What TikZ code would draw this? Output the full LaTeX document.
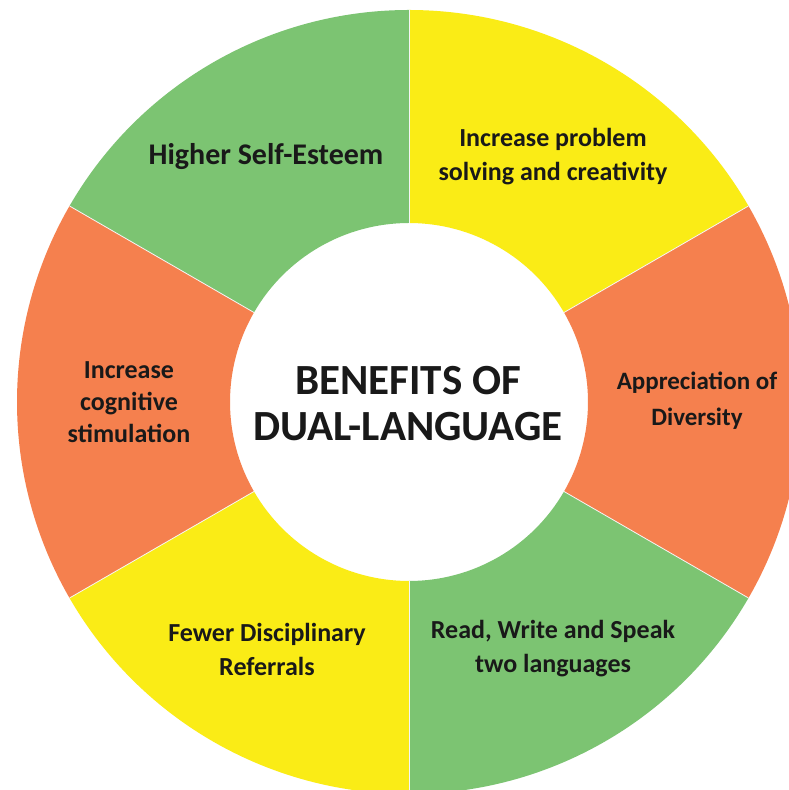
\documentclass[tikz,border=0pt]{standalone}
\usepackage{fontspec}
\setmainfont{Carlito}
\usetikzlibrary{calc}
\definecolor{sgreen}{RGB}{124,196,114}
\definecolor{syellow}{RGB}{250,236,22}
\definecolor{sorange}{RGB}{245,128,78}
\definecolor{stext}{RGB}{25,25,25}
\tikzset{
  seg/.style={draw=white!92!gray, line width=0.8pt},
  lbl/.style={align=center, text=stext, font=\bfseries\fontsize{26}{34}\selectfont, inner sep=0pt},
  big/.style={align=center, text=stext, font=\bfseries\fontsize{43}{46}\selectfont, inner sep=0pt}
}
\begin{document}
\begin{tikzpicture}[x=1pt,y=1pt]
\useasboundingbox (0,0) rectangle (789,790);
\fill[white] (0,0) rectangle (789,790);
\coordinate (C) at (409,388);
\begin{scope}
\clip (0,0) rectangle (789,790);
\foreach \a/\c in {30/syellow,90/sgreen,150/sorange,210/syellow,270/sgreen,330/sorange}{
  \fill[\c] ($(C)+(\a:392)$) arc[start angle=\a, end angle=\a+60, radius=392]
     -- ($(C)+(\a+60:179)$) arc[start angle=\a+60, end angle=\a, radius=179] -- cycle;
}
\foreach \a in {30,90,150,210,270,330}{
  \draw[seg] ($(C)+(\a:179)$) -- ($(C)+(\a:392)$);
}
\end{scope}
\node[lbl, font=\bfseries\fontsize{30}{34}\selectfont] (t1) at (266,633) {Higher Self-Esteem};
\node[lbl] (t2) at (553,633) {Increase problem\\solving and creativity};
\node[lbl, font=\bfseries\fontsize{26}{32}\selectfont] (t3) at (129,388) {Increase\\cognitive\\stimulation};
\node[lbl, font=\bfseries\fontsize{25}{36}\selectfont] (t4) at (697,389) {Appreciation of\\Diversity};
\node[lbl] (t5) at (267,141) {Fewer Disciplinary\\Referrals};
\node[lbl] (t6) at (553,141) {Read, Write and Speak\\two languages};
\node[big] (ctr) at (408,386) {BENEFITS OF\\DUAL-LANGUAGE};
\end{tikzpicture}
\end{document}
